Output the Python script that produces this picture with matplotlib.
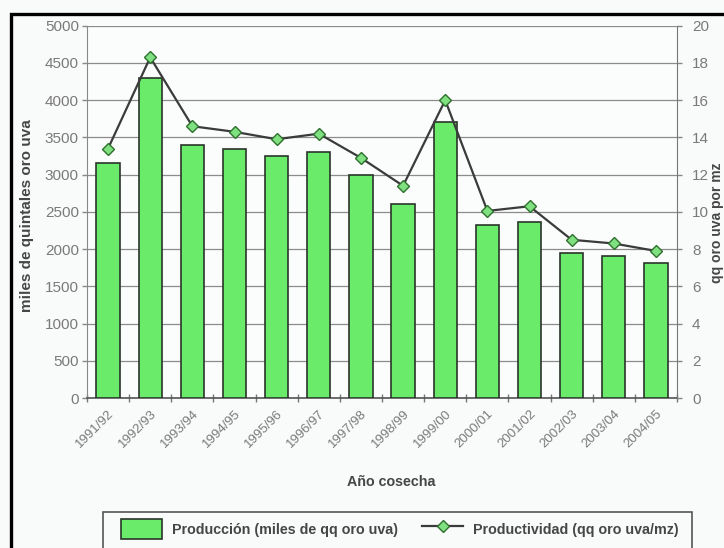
import matplotlib
matplotlib.use("Agg")
import matplotlib.pyplot as plt
from matplotlib.lines import Line2D
from matplotlib.patches import Rectangle, Patch
import numpy as np

plt.rcParams['font.family'] = ['Liberation Sans', 'DejaVu Sans']

# Coffee harvests: production (thousand quintals) and yield (qq per manzana)
cosechas = ["1991/92", "1992/93", "1993/94", "1994/95", "1995/96", "1996/97",
            "1997/98", "1998/99", "1999/00", "2000/01", "2001/02", "2002/03",
            "2003/04", "2004/05"]
produccion = [3160, 4300, 3400, 3350, 3250, 3300, 2990, 2610, 3700,
              2320, 2360, 1950, 1910, 1810]
productividad = [13.4, 18.3, 14.6, 14.3, 13.9, 14.2, 12.9, 11.4, 16.0,
                 10.05, 10.3, 8.5, 8.3, 7.9]

W, H = 724, 548
fig = plt.figure(figsize=(W / 100, H / 100), dpi=100, facecolor='#f9fafa')


def fx(px):
    return px / W


def fy(py):
    return 1 - py / H


BAR_GREEN = '#6aeb6a'
BAR_EDGE = '#2a352a'
LABEL_GREY = '#7a7a7a'
TITLE_GREY = '#464646'

ax = fig.add_axes([fx(87), fy(398), fx(677) - fx(87), fy(25.7) - fy(398)])
ax.set_facecolor('#fbfcfc')
x = np.arange(len(cosechas))

ax.bar(x, produccion, width=0.55, color=BAR_GREEN, edgecolor=BAR_EDGE,
       linewidth=1.2, zorder=3)
ax.set_ylim(0, 5000)
ax.set_yticks(np.arange(0, 5001, 500))
ax.set_xlim(-0.5, len(cosechas) - 0.5)
ax.yaxis.grid(True, color='#8c8c8c', linewidth=0.9)
ax.set_axisbelow(True)

ax.set_xticks(x)
ax.set_xticklabels(cosechas, rotation=45, ha='right', rotation_mode='anchor',
                   fontsize=9.5, color=LABEL_GREY)
ax.set_xticks(np.arange(-0.5, len(cosechas)), minor=True)
ax.tick_params(axis='x', which='major', length=0, pad=7)
ax.tick_params(axis='x', which='minor', length=6, direction='inout',
               color='#777777', width=1)
ax.tick_params(axis='y', length=3.6, width=1, color='#888888',
               labelsize=11, labelcolor=LABEL_GREY, pad=2.2)

ax.spines['top'].set_visible(False)
ax.spines['right'].set_visible(False)
ax.spines['left'].set_color('#888888')
ax.spines['bottom'].set_color('#555555')
ax.spines['bottom'].set_linewidth(1.2)

ax2 = ax.twinx()
ax2.plot(x, productividad, color='#3b3b3b', lw=1.6, marker='D', ms=6,
         mfc='#7ee07e', mec='#2f6f2f', mew=1, zorder=4)
ax2.set_ylim(0, 20)
ax2.set_yticks(np.arange(0, 21, 2))
ax2.tick_params(axis='y', length=3.6, width=1, color='#888888',
                labelsize=11, labelcolor=LABEL_GREY, pad=7.2)
for side in ('top', 'left', 'bottom'):
    ax2.spines[side].set_visible(False)
ax2.spines['right'].set_color('#777777')

# Axis titles
fig.text(fx(31), fy(216), "miles de quintales oro uva", rotation=90,
         rotation_mode='anchor', ha='center', va='baseline', fontsize=11,
         weight='bold', color=TITLE_GREY)
fig.text(fx(721), fy(223), "qq oro uva por mz", rotation=90,
         rotation_mode='anchor', ha='center', va='baseline', fontsize=10,
         weight='bold', color=TITLE_GREY)
fig.text(fx(391.5), fy(486), "Año cosecha", ha='center', va='baseline',
         fontsize=10.3, weight='bold', color=TITLE_GREY)

# Legend
handles = [
    Patch(facecolor=BAR_GREEN, edgecolor=BAR_EDGE, linewidth=1.2),
    Line2D([], [], color='#3b3b3b', lw=1.6, marker='D', ms=6,
           mfc='#7ee07e', mec='#2f6f2f', mew=1),
]
labels = ["Producción (miles de qq oro uva)", "Productividad (qq oro uva/mz)"]
fig.legend(handles, labels, loc='upper left',
           bbox_to_anchor=(fx(121), fy(519)), frameon=False, ncol=2,
           prop=dict(weight='bold', size=10.3), labelcolor=TITLE_GREY,
           handlelength=2.87, handleheight=1.75, handletextpad=0.7,
           columnspacing=1.68, borderpad=0, borderaxespad=0)
fig.add_artist(Rectangle((fx(103), fy(570)), fx(692) - fx(103),
                         fy(512) - fy(570), fill=False,
                         edgecolor='#555555', linewidth=1.2,
                         transform=fig.transFigure))

# Outer frame
fig.add_artist(Line2D([fx(10.5), fx(10.5), fx(740)],
                      [fy(570), fy(14), fy(14)], color='black', lw=2.4,
                      solid_joinstyle='miter', transform=fig.transFigure))

fig.savefig("out.png", dpi=100, facecolor=fig.get_facecolor())
